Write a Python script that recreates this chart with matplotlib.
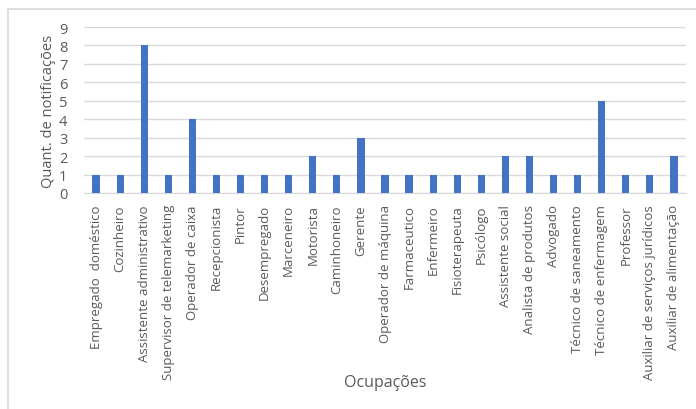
import matplotlib
matplotlib.use("Agg")
import matplotlib.pyplot as plt
from matplotlib.patches import Rectangle

ocupacoes = [
    "Empregado  doméstico", "Cozinheiro", "Assistente administrativo",
    "Supervisor de telemarketing", "Operador de caixa", "Recepcionista",
    "Pintor", "Desempregado", "Marceneiro", "Motorista", "Caminhoneiro",
    "Gerente", "Operador de máquina", "Farmaceutico", "Enfermeiro",
    "Fisioterapeuta", "Psicólogo", "Assistente social", "Analista de produtos",
    "Advogado", "Técnico de saneamento", "Técnico de enfermagem", "Professor",
    "Auxiliar de serviços jurídicos", "Auxiliar de alimentação",
]
notificacoes = [1, 1, 8, 1, 4, 1, 1, 1, 1, 2, 1, 3, 1, 1, 1, 1, 1, 2, 2, 1, 1, 5, 1, 1, 2]
y_ticks = list(range(0, 10))

plt.rcParams['font.family'] = ['Open Sans', 'DejaVu Sans']
grey = "#595959"

fig = plt.figure(figsize=(6.96, 4.10), dpi=100)
ax = fig.add_axes([84 / 696, 1 - 194 / 410, 602 / 696, 166 / 410])

x = range(len(ocupacoes))
ax.bar(x, notificacoes, width=0.3, color="#4472C4", zorder=3)

ax.set_xlim(-0.5, len(ocupacoes) - 0.5)
ax.set_ylim(0, 9)
ax.set_yticks(y_ticks)
ax.set_xticks(list(x))
ax.set_xticklabels(ocupacoes, rotation=90, fontsize=9.5, color=grey)
ax.tick_params(axis="y", labelsize=10.5, labelcolor=grey, length=0, pad=12)
ax.tick_params(axis="x", length=0, pad=8)
ax.grid(axis="y", color="#d9d9d9", linewidth=1, zorder=0)
for s in ["top", "right", "left"]:
    ax.spines[s].set_visible(False)
ax.spines["bottom"].set_color("#d9d9d9")

ax.set_ylabel("Quant. de notificações", fontsize=10.5, color=grey, labelpad=2)
fig.text(385 / 696, 1 - 383 / 410, "Ocupações", ha="center", va="center",
         fontsize=11.5, color=grey)

# chart border (cropped at right and bottom)
fig.patches.append(Rectangle((8 / 696, -0.1), 1.2, 1.1 - 10 / 410,
                             transform=fig.transFigure, fill=False,
                             edgecolor="#d9d9d9", linewidth=1.2))

fig.savefig("out.png", dpi=100)
